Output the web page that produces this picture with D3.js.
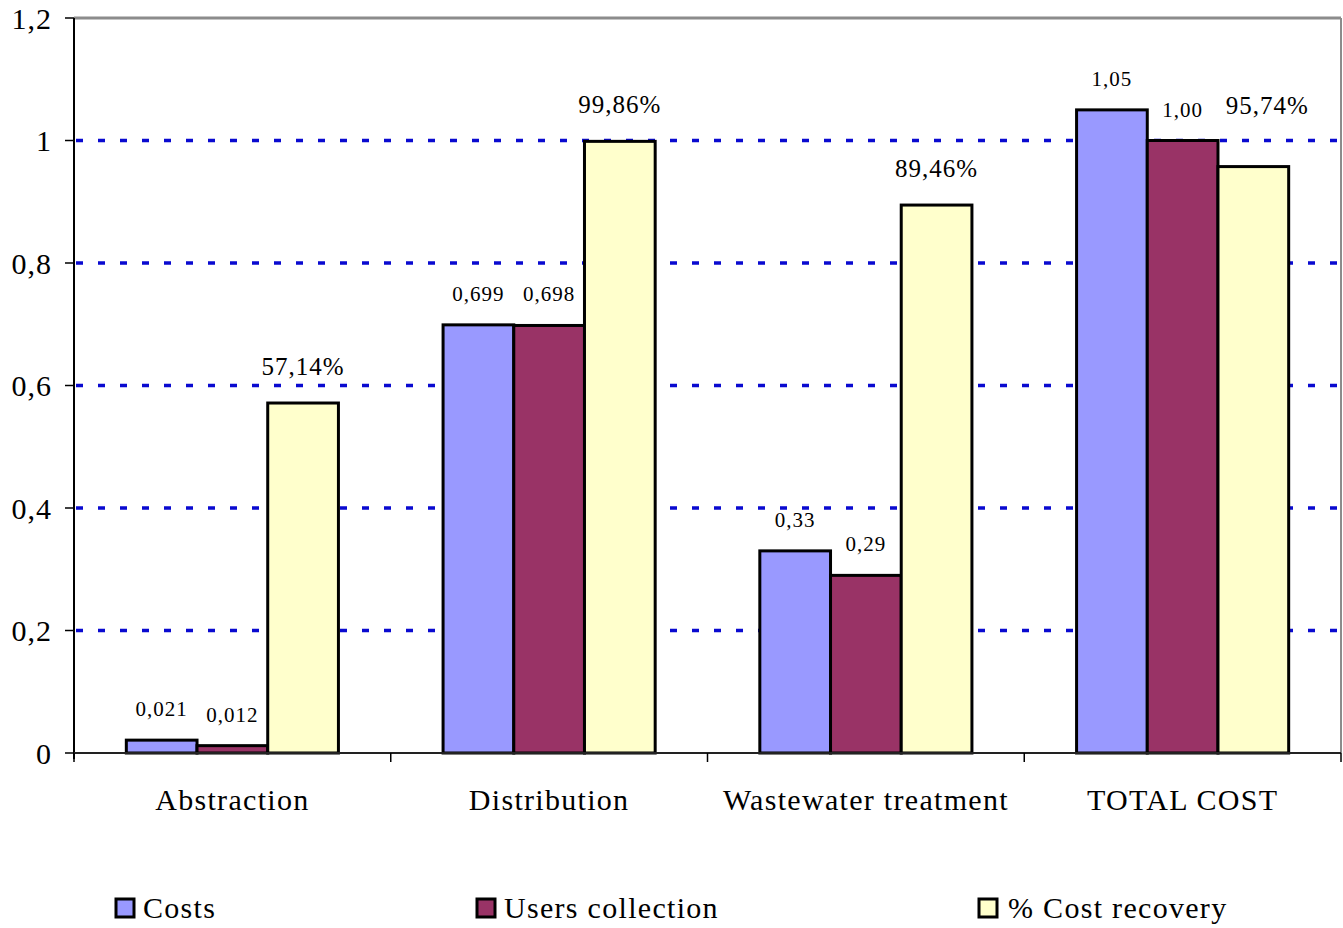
<!DOCTYPE html>
<html>
<head>
<meta charset="utf-8">
<script src="https://cdn.jsdelivr.net/npm/d3@7"></script>
<style>
  html, body { margin: 0; padding: 0; background: #fff; }
  svg { display: block; font-family: "Liberation Serif", "DejaVu Serif", serif; }
</style>
</head>
<body>
<svg id="chart" width="1343" height="928"></svg>
<script>
// Cost and revenue per service stage
const categories = ["Abstraction", "Distribution", "Wastewater treatment", "TOTAL COST"];
const costs = [0.021, 0.699, 0.33, 1.05];
const usersCollection = [0.012, 0.698, 0.29, 1.00];
const costRecovery = [0.5714, 0.9986, 0.8946, 0.9574];
const costLabels = ["0,021", "0,699", "0,33", "1,05"];
const usersLabels = ["0,012", "0,698", "0,29", "1,00"];
const recoveryLabels = ["57,14%", "99,86%", "89,46%", "95,74%"];
const seriesNames = ["Costs", "Users collection", "% Cost recovery"];
const yTicks = [0, 0.2, 0.4, 0.6, 0.8, 1, 1.2];
const yTickLabels = ["0", "0,2", "0,4", "0,6", "0,8", "1", "1,2"];

const colors = ["#9999ff", "#993366", "#ffffcc"];
const series = [
  { name: seriesNames[0], values: costs, labels: costLabels, size: 21 },
  { name: seriesNames[1], values: usersCollection, labels: usersLabels, size: 21 },
  { name: seriesNames[2], values: costRecovery, labels: recoveryLabels, size: 25 }
];

const svg = d3.select("#chart");
const plotLeft = 74, plotRight = 1341, plotTop = 18, plotBottom = 753;

const x = d3.scaleBand().domain(categories).range([plotLeft, plotRight]).paddingInner(0).paddingOuter(0);
const xInner = d3.scaleBand().domain(d3.range(series.length)).range([0, x.bandwidth()]).paddingOuter(0.74).paddingInner(0);
const y = d3.scaleLinear().domain([0, 1.2]).range([plotBottom, plotTop]);

// plot frame: top and right edges in gray
svg.append("line").attr("x1", plotLeft).attr("x2", plotRight).attr("y1", y(1.2)).attr("y2", y(1.2))
  .attr("stroke", "#8c8c8c").attr("stroke-width", 3);
svg.append("line").attr("x1", plotRight).attr("x2", plotRight).attr("y1", plotTop).attr("y2", plotBottom)
  .attr("stroke", "#8c8c8c").attr("stroke-width", 2);

// dotted gridlines
svg.append("g").selectAll("line")
  .data(yTicks.filter(t => t > 0 && t < 1.2))
  .join("line")
  .attr("x1", plotLeft + 2).attr("x2", plotRight)
  .attr("y1", d => y(d)).attr("y2", d => y(d))
  .attr("stroke", "#0a0ad0").attr("stroke-width", 3.5)
  .attr("stroke-dasharray", "7 15");

// bars
const groups = svg.append("g").selectAll("g")
  .data(series)
  .join("g");

groups.each(function (s, si) {
  d3.select(this).selectAll("rect")
    .data(s.values)
    .join("rect")
    .attr("x", (d, i) => x(categories[i]) + xInner(si))
    .attr("y", d => y(d))
    .attr("width", xInner.bandwidth())
    .attr("height", d => y(0) - y(d))
    .attr("fill", colors[si])
    .attr("stroke", "#000")
    .attr("stroke-width", 3);
});

// value labels (one label lifted to clear the gridline and its neighbour)
const labelLift = { "2-3": 25 };
groups.each(function (s, si) {
  d3.select(this).selectAll("text")
    .data(s.values)
    .join("text")
    .attr("x", (d, i) => x(categories[i]) + xInner(si) + xInner.bandwidth() / 2 + (si === 2 && i === 3 ? 14 : 0))
    .attr("y", (d, i) => y(d) - (si === 2 ? 28 : 24) - (labelLift[si + "-" + i] || 0))
    .attr("text-anchor", "middle")
    .attr("font-size", s.size)
    .attr("letter-spacing", 1)
    .attr("fill", "#000")
    .text((d, i) => s.labels[i]);
});

// y axis
const yAxis = svg.append("g");
yAxis.append("line").attr("x1", plotLeft).attr("x2", plotLeft).attr("y1", plotTop).attr("y2", plotBottom + 6)
  .attr("stroke", "#000").attr("stroke-width", 2);
yAxis.selectAll(".tick")
  .data(yTicks)
  .join("line")
  .attr("x1", plotLeft - 9).attr("x2", plotLeft)
  .attr("y1", d => y(d)).attr("y2", d => y(d))
  .attr("stroke", "#000").attr("stroke-width", 1.5);
yAxis.selectAll("text")
  .data(yTicks)
  .join("text")
  .attr("x", plotLeft - 22)
  .attr("y", d => y(d))
  .attr("dy", "0.35em")
  .attr("text-anchor", "end")
  .attr("font-size", 30)
  .attr("letter-spacing", 1)
  .text((d, i) => yTickLabels[i]);

// x axis
const xAxis = svg.append("g");
xAxis.append("line").attr("x1", plotLeft).attr("x2", plotRight).attr("y1", plotBottom).attr("y2", plotBottom)
  .attr("stroke", "#222").attr("stroke-width", 2);
xAxis.selectAll(".tick")
  .data(categories.map(c => x(c)).concat([plotRight]))
  .join("line")
  .attr("x1", d => d).attr("x2", d => d)
  .attr("y1", plotBottom).attr("y2", plotBottom + 9)
  .attr("stroke", "#000").attr("stroke-width", 1.5);
xAxis.selectAll("text")
  .data(categories)
  .join("text")
  .attr("x", d => x(d) + x.bandwidth() / 2)
  .attr("y", 810)
  .attr("text-anchor", "middle")
  .attr("font-size", 30)
  .attr("letter-spacing", 1.3)
  .text(d => d);

// legend
const legendX = [116, 477, 979];
const legend = svg.append("g").selectAll("g")
  .data(series)
  .join("g")
  .attr("transform", (d, i) => `translate(${legendX[i]},899)`);
legend.append("rect")
  .attr("width", 18).attr("height", 18)
  .attr("fill", (d, i) => colors[i])
  .attr("stroke", "#000").attr("stroke-width", 3);
legend.append("text")
  .attr("x", (d, i) => i === 2 ? 29 : 27)
  .attr("y", 19)
  .attr("font-size", 30)
  .attr("letter-spacing", 1.3)
  .text(d => d.name);
</script>
</body>
</html>
